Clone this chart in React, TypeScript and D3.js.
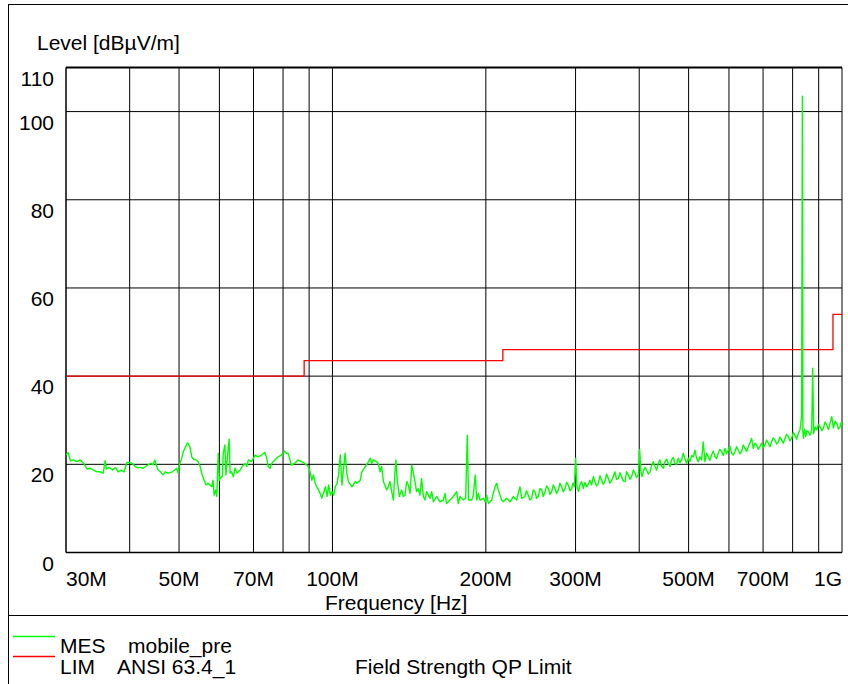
import * as d3 from 'd3';

// axis values
const yLabels = [0, 20, 40, 60, 80, 100, 110];
const yGrid = [20, 40, 60, 80, 100];
const xGrid = [40, 50, 60, 70, 80, 90, 100, 200, 300, 400, 500, 600, 700, 800, 900];
const xTickValues = [30, 50, 70, 100, 200, 300, 500, 700, 1000];
const xTickLabels = ['30M', '50M', '70M', '100M', '200M', '300M', '500M', '700M', '1G'];

// limit line ANSI 63.4 (MHz, dBuV/m)
const limFreq = [30, 88, 216, 960, 1000];
const limLevel = [40, 43.5, 46, 54, 54];

// measured trace (MHz)
const mesFreq = [
  30.0, 30.3, 30.6, 31.0, 31.5, 32.0, 32.5, 33.0, 33.5, 34.0, 34.5, 35.0, 35.5, 35.8, 36.0, 36.5,
  37.0, 37.5, 38.0, 38.5, 39.0, 39.5, 40.0, 40.5, 41.0, 41.5, 42.0, 42.5, 43.0, 43.5, 44.0, 44.5,
  44.8, 45.0, 45.5, 46.0, 46.5, 47.0, 47.5, 48.0, 48.5, 49.0, 49.5, 49.8, 50.0, 50.5, 51.0, 51.5,
  52.0, 52.5, 53.0, 53.5, 54.0, 54.5, 55.0, 55.5, 56.0, 56.5, 57.0, 57.5, 58.0, 58.3, 58.6, 59.0,
  59.3, 59.7, 60.0, 60.3, 60.8, 61.05, 61.5, 61.8, 62.3, 62.7, 63.0, 63.4, 63.9, 64.4, 64.9, 65.9,
  66.5, 67.4, 67.9, 68.4, 69.4, 70.5, 71.5, 72.6, 73.7, 74.3, 74.8, 75.4, 76.0, 77.1, 78.2, 79.4,
  80.6, 81.2, 81.8, 82.4, 83.0, 84.3, 85.6, 86.9, 88.2, 89.7, 90.4, 91.1, 91.8, 92.5, 93.2, 93.9,
  94.6, 95.3, 96.9, 97.6, 98.3, 99.1, 99.8, 100.6, 101.3, 102.1, 102.8, 103.6, 104.4, 105.1, 105.9, 106.7,
  107.5, 109.2, 110.8, 111.7, 113.4, 114.2, 116.0, 117.8, 118.7, 119.4, 120.3, 122.1, 123.0, 124.0, 124.9, 125.9,
  127.8, 128.7, 129.7, 130.7, 131.7, 132.6, 133.2, 134.0, 135.3, 136.7, 137.8, 138.8, 139.9, 140.9, 142.0, 143.1,
  144.2, 145.2, 146.3, 147.4, 148.5, 149.6, 150.8, 151.9, 153.1, 154.2, 155.4, 156.6, 157.8, 160.1, 162.6, 165.1,
  166.3, 167.5, 170.1, 172.7, 175.3, 176.6, 178.0, 180.7, 182.6, 183.9, 185.0, 187.6, 189.0, 190.7, 191.9, 193.3,
  194.8, 197.8, 199.3, 200.8, 202.3, 205.3, 208.5, 210.0, 211.6, 214.8, 216.4, 219.7, 223.1, 226.5, 229.9, 233.4,
  235.2, 238.6, 240.4, 242.3, 244.1, 246.0, 247.8, 249.7, 251.6, 253.5, 255.4, 257.4, 259.3, 261.3, 263.3, 265.3,
  267.3, 269.3, 271.3, 273.3, 275.4, 277.5, 279.6, 281.7, 283.8, 286.0, 288.1, 290.3, 292.5, 294.7, 296.5, 298.3,
  300.1, 301.9, 304.0, 306.0, 308.3, 310.7, 313.0, 315.4, 317.8, 320.2, 322.6, 325.0, 327.5, 330.0, 332.5, 335.0,
  337.5, 340.0, 342.6, 345.2, 347.8, 350.4, 353.1, 355.7, 358.4, 361.1, 363.9, 366.6, 369.4, 372.2, 375.0, 377.8,
  380.7, 383.6, 386.5, 389.4, 392.3, 395.3, 398.3, 400.7, 403.1, 405.2, 407.4, 410.5, 413.6, 416.7, 419.9, 423.0,
  426.2, 429.4, 432.6, 435.9, 439.2, 442.6, 445.9, 449.3, 452.7, 456.1, 459.5, 463.0, 466.5, 470.0, 473.6, 477.2,
  480.8, 484.4, 488.1, 491.8, 495.5, 499.3, 503.0, 506.8, 510.7, 514.5, 518.4, 522.3, 526.2, 530.2, 534.2, 538.3,
  542.3, 546.4, 550.5, 554.7, 558.9, 563.2, 567.4, 571.7, 576.0, 580.4, 584.8, 589.2, 593.6, 598.1, 602.6, 607.2,
  611.8, 616.5, 621.1, 625.8, 630.5, 635.3, 640.2, 645.0, 649.9, 654.8, 659.7, 664.7, 669.7, 674.8, 679.9, 685.0,
  690.2, 695.4, 700.7, 706.0, 711.3, 716.7, 722.1, 727.5, 733.0, 738.6, 744.2, 749.8, 755.5, 761.2, 767.0, 772.8,
  778.6, 784.5, 790.4, 796.4, 802.4, 808.5, 814.6, 820.8, 827.0, 833.2, 836.0, 838.0, 840.0, 842.0, 845.2, 848.5,
  853.7, 858.9, 865.4, 872.0, 876.0, 880.0, 886.0, 892.1, 898.8, 905.6, 912.5, 919.4, 926.3, 933.3, 940.4, 947.5,
  954.7, 962.0, 969.3, 976.7, 984.1, 991.5, 996.0, 1000,
];
// measured trace (dBuV/m)
const mesLevel = [
  22.1, 22.6, 20.8, 21.0, 20.6, 21.0, 20.2, 18.9, 19.1, 18.7, 18.3, 18.3, 18.0, 20.8, 18.9, 19.3,
  18.7, 19.3, 18.3, 18.7, 18.3, 20.4, 20.4, 20.2, 19.5, 19.2, 19.3, 19.1, 19.5, 19.9, 20.2, 19.9,
  21.0, 20.2, 18.7, 18.3, 17.6, 18.3, 18.0, 18.1, 18.3, 18.7, 19.1, 18.0, 19.8, 21.0, 22.9, 24.0,
  24.9, 24.0, 21.6, 21.1, 21.0, 20.6, 19.5, 17.6, 16.4, 15.3, 15.7, 15.3, 14.9, 16.4, 13.0, 14.2,
  12.7, 22.5, 16.4, 17.0, 17.2, 22.5, 24.4, 17.6, 22.5, 25.7, 18.0, 18.3, 17.2, 19.1, 18.0, 18.7,
  19.5, 20.2, 19.5, 21.0, 20.6, 22.1, 21.7, 22.1, 22.7, 21.4, 19.5, 19.1, 20.2, 21.0, 21.7, 22.1,
  23.0, 22.5, 22.5, 21.4, 19.8, 20.2, 21.0, 20.6, 20.2, 19.5, 18.3, 16.4, 17.6, 15.7, 14.9, 14.2,
  13.4, 12.3, 14.9, 12.7, 15.3, 13.0, 13.8, 13.0, 14.9, 15.7, 17.6, 22.1, 15.3, 18.7, 22.5, 18.0,
  16.1, 14.9, 16.1, 15.7, 16.4, 18.3, 19.5, 20.6, 21.4, 20.2, 21.0, 20.6, 20.2, 18.3, 19.5, 16.1,
  14.2, 14.9, 16.1, 13.8, 11.9, 18.0, 21.0, 16.4, 12.7, 14.2, 12.7, 13.0, 16.1, 15.3, 13.4, 19.8,
  18.0, 16.1, 13.8, 14.5, 13.0, 16.8, 12.7, 11.9, 13.8, 13.0, 12.3, 13.8, 11.5, 12.7, 11.5, 11.9,
  13.4, 11.1, 11.9, 12.7, 13.8, 11.1, 12.7, 11.9, 12.3, 26.6, 11.9, 11.9, 13.0, 17.6, 11.9, 13.4,
  11.9, 12.3, 11.5, 13.0, 11.1, 11.9, 14.9, 15.7, 14.2, 11.9, 11.5, 12.3, 11.5, 12.7, 11.9, 14.9,
  12.3, 12.7, 14.0, 13.0, 11.9, 12.3, 14.2, 13.8, 12.3, 12.7, 14.5, 14.2, 12.7, 13.8, 15.1, 14.5,
  13.2, 13.8, 15.3, 14.5, 13.4, 14.2, 15.7, 14.9, 13.8, 14.5, 15.9, 15.3, 14.0, 14.5, 15.7, 14.9,
  21.4, 14.9, 13.8, 15.3, 16.1, 14.5, 15.9, 14.9, 15.5, 16.4, 15.3, 17.2, 16.1, 15.1, 15.7, 17.4,
  16.4, 15.5, 16.1, 17.8, 16.8, 15.7, 16.4, 17.2, 18.3, 16.6, 16.8, 18.1, 17.2, 16.2, 16.1, 18.3,
  17.6, 16.6, 17.2, 18.7, 18.0, 17.0, 17.6, 23.4, 18.3, 17.2, 18.3, 19.3, 18.7, 17.8, 18.3, 19.7,
  20.6, 19.5, 18.7, 20.2, 21.0, 19.5, 19.1, 20.6, 21.2, 20.2, 19.5, 21.0, 21.6, 20.2, 20.0, 21.4,
  20.4, 21.0, 22.5, 21.2, 20.2, 21.4, 20.6, 22.0, 21.7, 23.2, 21.4, 20.6, 21.7, 21.0, 25.1, 20.6,
  22.5, 21.7, 20.9, 22.1, 23.0, 21.7, 21.3, 22.5, 23.4, 22.9, 22.0, 23.6, 22.4, 23.2, 24.1, 22.5,
  22.1, 22.9, 24.0, 23.2, 22.4, 22.9, 24.4, 23.6, 22.9, 24.0, 24.8, 25.9, 23.6, 24.8, 24.4, 23.4,
  24.0, 24.8, 23.8, 24.4, 25.5, 24.8, 24.0, 25.1, 26.0, 25.5, 24.6, 25.1, 26.2, 25.5, 24.8, 25.9,
  26.8, 26.3, 25.3, 25.9, 27.2, 26.6, 25.7, 27.0, 27.8, 30.8, 103.5, 27.4, 25.9, 27.0, 28.0, 26.3,
  27.6, 27.4, 26.6, 27.8, 41.8, 27.0, 28.5, 27.8, 29.1, 28.5, 27.6, 28.2, 29.6, 28.9, 27.9, 29.3,
  30.8, 28.2, 29.8, 29.3, 28.0, 28.5, 29.5, 28.9,
];

const FONT = "'Liberation Sans', Arial, Helvetica, sans-serif";
const FS = 21;

export default function App() {
  const left = 66;
  const right = 842;
  const top = 67.5;
  const bottom = 552.5;

  const x = d3.scaleLog().domain([30, 1000]).range([left, right]);
  const y = d3.scaleLinear().domain([0, 110]).range([bottom, top]);

  const mesPath = d3
    .line<number>()
    .x((_, i) => x(mesFreq[i]))
    .y((d) => y(d))(mesLevel);

  const limPath = d3
    .line<number>()
    .x((_, i) => x(limFreq[i]))
    .y((d) => y(d))
    .curve(d3.curveStepAfter)(limLevel);

  return (
    <svg
      width={848}
      height={684}
      style={{ position: 'absolute', left: 0, top: 0, background: '#fff' }}
      fontFamily={FONT}
    >
      <rect x={0} y={0} width={848} height={684} fill="#fff" />
      {/* outer frame */}
      <rect x={8.5} y={4.5} width={850} height={700} fill="none" stroke="#000" strokeWidth={1} />
      <line x1={8} x2={848} y1={615.5} y2={615.5} stroke="#000" strokeWidth={1} />

      <text x={37} y={50} fontSize={FS}>
        Level [dBµV/m]
      </text>

      {/* grid */}
      {yGrid.map((v) => (
        <line key={'h' + v} x1={left} x2={right} y1={y(v)} y2={y(v)} stroke="#000" strokeWidth={1} />
      ))}
      {xGrid.map((f) => (
        <line key={'v' + f} x1={x(f)} x2={x(f)} y1={top} y2={bottom} stroke="#000" strokeWidth={1} />
      ))}

      {/* plot frame */}
      <line x1={left} x2={right} y1={top} y2={top} stroke="#000" strokeWidth={2} />
      <line x1={left} x2={right} y1={bottom} y2={bottom} stroke="#000" strokeWidth={1.5} />
      <line x1={left} x2={left} y1={top} y2={bottom} stroke="#000" strokeWidth={1.5} />
      <line x1={right} x2={right} y1={top} y2={bottom} stroke="#000" strokeWidth={1} />

      {/* traces */}
      <path d={limPath ?? ''} fill="none" stroke="#ff0000" strokeWidth={1.3} />
      <path d={mesPath ?? ''} fill="none" stroke="#00ff00" strokeWidth={1.4} strokeLinejoin="round" />

      {/* y labels */}
      {yLabels.map((v) => (
        <text key={'yl' + v} x={54} y={y(v) + 18} fontSize={FS} textAnchor="end">
          {v}
        </text>
      ))}

      {/* x labels */}
      {xTickValues.map((f, i) => (
        <text
          key={'xl' + f}
          x={x(f)}
          y={586}
          fontSize={FS}
          textAnchor={i === 0 ? 'start' : i === xTickValues.length - 1 ? 'end' : 'middle'}
        >
          {xTickLabels[i]}
        </text>
      ))}
      <text x={325} y={610} fontSize={FS}>
        Frequency [Hz]
      </text>

      {/* legend */}
      <line x1={13} x2={55} y1={636.5} y2={636.5} stroke="#00ff00" strokeWidth={1.3} />
      <line x1={13} x2={55} y1={656.5} y2={656.5} stroke="#ff0000" strokeWidth={1.3} />
      <text x={60} y={653} fontSize={FS}>MES</text>
      <text x={128} y={653} fontSize={FS}>mobile_pre</text>
      <text x={60} y={674} fontSize={FS}>LIM</text>
      <text x={117} y={674} fontSize={FS}>ANSI 63.4_1</text>
      <text x={355} y={674} fontSize={FS}>Field Strength QP Limit</text>
    </svg>
  );
}
